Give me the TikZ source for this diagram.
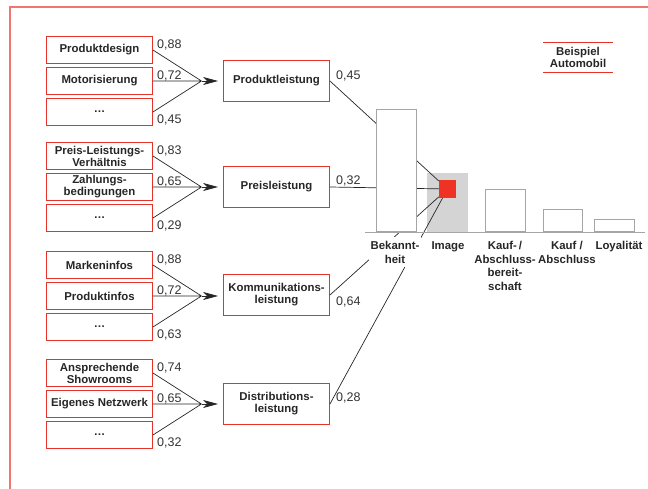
\documentclass[tikz,border=0pt]{standalone}
\usepackage{fontspec}
\setmainfont{Liberation Sans}
\usetikzlibrary{arrows.meta}

\definecolor{boxred}{RGB}{228,52,42}
\definecolor{framered}{RGB}{238,120,110}
\definecolor{barline}{RGB}{165,165,165}
\definecolor{imggray}{RGB}{212,212,212}
\definecolor{hotred}{RGB}{238,50,36}
\definecolor{numgray}{RGB}{50,50,50}

\tikzset{
  driver/.style={draw=boxred, line width=0.9pt, minimum width=106pt, minimum height=27pt,
    inner sep=0pt, align=center, font=\bfseries\fontsize{11.4}{12}\selectfont, text=black!85},
  factor/.style={driver, minimum height=41pt},
  weight/.style={inner sep=0pt, anchor=west, font=\fontsize{12.5}{14}\selectfont, text=numgray},
  link/.style={line width=0.7pt, draw=black!85},
  feed/.style={link, -{Stealth[length=15pt,width=8pt,inset=4pt]}, shorten >=5pt},
  bar/.style={draw=barline, line width=1pt, fill=white},
  stage/.style={inner sep=0pt, anchor=north, align=center,
    font=\bfseries\fontsize{11.4}{13.7}\selectfont, text=black!85},
}

\begin{document}
\begin{tikzpicture}[x=1pt,y=-1pt]
\useasboundingbox (0,0) rectangle (648,489);
\draw[framered, line width=1.6pt] (10,489) -- (10,6.8) -- (648,6.8);

% --- Produktleistung
\node[driver] (a1) at (99.5,50) {Produktdesign};
\node[driver] (a2) at (99.5,81) {Motorisierung};
\node[driver] (a3) at (99.5,112) {\dots};
\node[factor] (A) at (276.5,81) {Produktleistung};
\coordinate (ja) at (201.5,81);
\draw[link] (a1.east) -- (ja) (a2.east) -- (ja) (a3.east) -- (ja);
\draw[feed] (ja) -- (A.west);
\node[weight] (wa1) at (157,44.5) {0,88};
\node[weight] (wa2) at (157,75.5) {0,72};
\node[weight] (wa3) at (157,119.5) {0,45};

% --- Preisleistung
\node[driver] (b1) at (99.5,156) {Preis-Leistungs-\\Verhältnis};
\node[driver] (b2) at (99.5,187) {Zahlungs-\\bedingungen};
\node[driver] (b3) at (99.5,218) {\dots};
\node[factor] (B) at (276.5,187) {Preisleistung};
\coordinate (jb) at (201.5,187);
\draw[link] (b1.east) -- (jb) (b2.east) -- (jb) (b3.east) -- (jb);
\draw[feed] (jb) -- (B.west);
\node[weight] (wb1) at (157,150.5) {0,83};
\node[weight] (wb2) at (157,181.5) {0,65};
\node[weight] (wb3) at (157,225.5) {0,29};

% --- Kommunikationsleistung
\node[driver] (c1) at (99.5,265) {Markeninfos};
\node[driver] (c2) at (99.5,296) {Produktinfos};
\node[driver] (c3) at (99.5,327) {\dots};
\node[factor] (C) at (276.5,295) {Kommunikations-\\leistung};
\coordinate (jc) at (201.5,296);
\draw[link] (c1.east) -- (jc) (c2.east) -- (jc) (c3.east) -- (jc);
\draw[feed] (jc) -- (C.west |- jc);
\node[weight] (wc1) at (157,259.5) {0,88};
\node[weight] (wc2) at (157,290.5) {0,72};
\node[weight] (wc3) at (157,334.5) {0,63};

% --- Distributionsleistung
\node[driver] (d1) at (99.5,373) {Ansprechende\\Showrooms};
\node[driver] (d2) at (99.5,404) {Eigenes Netzwerk};
\node[driver] (d3) at (99.5,435) {\dots};
\node[factor] (D) at (276.5,404) {Distributions-\\leistung};
\coordinate (jd) at (201.5,404);
\draw[link] (d1.east) -- (jd) (d2.east) -- (jd) (d3.east) -- (jd);
\draw[feed] (jd) -- (D.west);
\node[weight] (wd1) at (157,367.5) {0,74};
\node[weight] (wd2) at (157,398.5) {0,65};
\node[weight] (wd3) at (157,442.5) {0,32};

% --- weights towards the image
\node[weight] (wA) at (336,76) {0,45};
\node[weight] (wB) at (336,181) {0,32};
\node[weight] (wC) at (336,302) {0,64};
\node[weight] (wD) at (336,398) {0,28};

% --- funnel chart
\fill[imggray] (427,173) rectangle (468,232);
\node[fill=hotred, minimum width=17pt, minimum height=18pt, inner sep=0pt] (img) at (447.5,189) {};
\draw[link] (A.east) -- (img);
\draw[link] (B.east) -- (img);
\draw[link] (C.east) -- (img);
\draw[link] (D.east) -- (img);

\draw[bar] (376.5,109.5) rectangle (416.5,232);
\draw[bar] (485.5,189.5) rectangle (525.5,232);
\draw[bar] (543.5,209.5) rectangle (582.5,232);
\draw[bar] (594.5,219.5) rectangle (634.5,232);
\draw[barline, line width=1pt] (365,232.5) -- (645,232.5);

\node[stage, fill=white, inner xsep=2pt, inner ysep=4pt] (lb) at (395,237) {Bekannt-\\heit};
\node[stage] (li) at (448,241) {Image};
\node[stage] (lk) at (505,241) {Kauf-\,/\\Abschluss-\\bereit-\\schaft};
\node[stage] (la) at (567,241) {Kauf /\\Abschluss};
\node[stage] (ll) at (619,241) {Loyalität};

% --- example tag
\draw[boxred, line width=1.5pt] (543,42.3) -- (613,42.3);
\draw[boxred, line width=1.5pt] (543,72.3) -- (613,72.3);
\node[stage, anchor=center, font=\bfseries\fontsize{11.4}{11.6}\selectfont] (ex) at (578,57.5) {Beispiel\\Automobil};
\end{tikzpicture}
\end{document}
